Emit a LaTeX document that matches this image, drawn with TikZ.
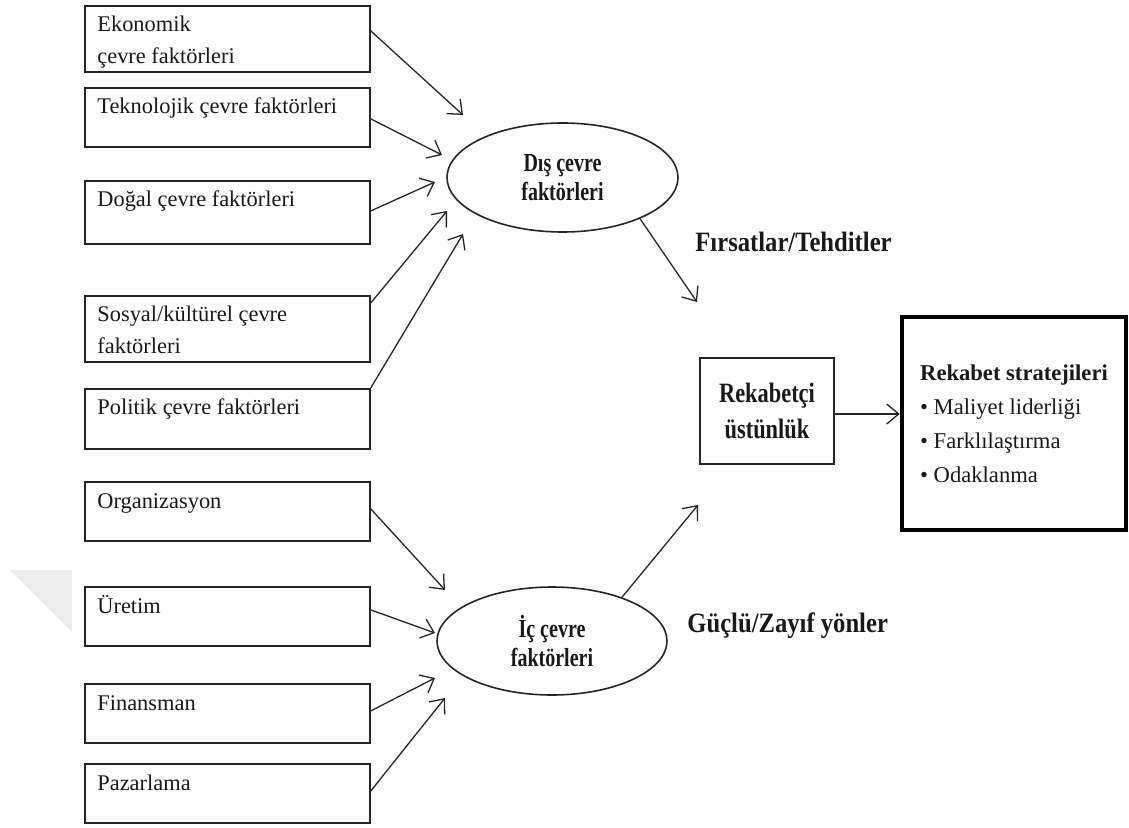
\documentclass[tikz,border=0pt]{standalone}
\usepackage{fontspec}
\setmainfont{Liberation Serif}
\newfontfamily\narrowserif[FakeStretch=0.77]{Liberation Serif}
\newfontfamily\headserif[FakeStretch=0.8]{Liberation Serif}
\newfontfamily\labelserif[FakeStretch=0.88]{Liberation Serif}
\usetikzlibrary{arrows.meta,shapes.geometric,calc}
\begin{document}
\begin{tikzpicture}[x=0.5pt,y=-0.5pt,
  factor/.style={draw=black!85, line width=0.9pt, rectangle, anchor=north west,
    inner sep=0pt, minimum width=142.5pt},
  boxtext/.style={anchor=base west, inner sep=0pt, xshift=6.5pt, yshift=-13.5pt,
    align=left, text=black!90, font=\fontsize{11.2}{16}\selectfont},
  boxtexttwo/.style={boxtext, yshift=-16pt},
  envnode/.style={draw=black!85, line width=0.8pt, ellipse, inner sep=0pt,
    minimum width=115.5pt, minimum height=54.5pt, align=center, text=black!90,
    font=\narrowserif\bfseries\fontsize{13}{14.5}\selectfont},
  conn/.style={draw=black!85, line width=0.65pt, -{Straight Barb[length=6pt,width=10pt]}},
  sidelabel/.style={anchor=base west, inner sep=0pt, text=black!90,
    font=\labelserif\bfseries\fontsize{14}{16}\selectfont}
]
\useasboundingbox (0,0) rectangle (1129,828);

% faint mark at the left margin
\fill[black!7] (10,570) -- (72,570) -- (72,632) -- cycle;

% external factors
\node[factor, minimum height=33pt,
  label={[boxtexttwo]north west:Ekonomik\\çevre faktörleri}] (eko) at (84,5) {};
\node[factor, minimum height=29.5pt,
  label={[boxtext]north west:Teknolojik çevre faktörleri}] (tek) at (84,87) {};
\node[factor, minimum height=31.5pt,
  label={[boxtext]north west:Doğal çevre faktörleri}] (dog) at (84,180) {};
\node[factor, minimum height=33pt,
  label={[boxtexttwo]north west:Sosyal/kültürel çevre\\faktörleri}] (sos) at (84,295) {};
\node[factor, minimum height=30pt,
  label={[boxtext]north west:Politik çevre faktörleri}] (pol) at (84,388) {};

% internal factors
\node[factor, minimum height=29.5pt,
  label={[boxtext]north west:Organizasyon}] (org) at (84,481) {};
\node[factor, minimum height=29.5pt,
  label={[boxtext]north west:Üretim}] (ure) at (84,586) {};
\node[factor, minimum height=29.5pt,
  label={[boxtext]north west:Finansman}] (fin) at (84,683) {};
\node[factor, minimum height=29.5pt,
  label={[boxtext]north west:Pazarlama}] (paz) at (84,763) {};

% environment ellipses
\node[envnode] (dis) at (562.5,177.5) {Dış çevre\\faktörleri};
\node[envnode, minimum width=115pt, minimum height=54pt] (ic) at (552,641) {İç çevre\\faktörleri};

% competitive advantage and strategies
\node[draw=black!85, line width=0.8pt, rectangle, inner sep=0pt,
  minimum width=67pt, minimum height=53pt, align=center, text=black!90,
  font=\headserif\bfseries\fontsize{14}{18}\selectfont] (rek) at (767,411) {Rekabetçi\\üstünlük};
\node[draw=black, line width=2.3pt, rectangle, inner sep=0pt,
  minimum width=112pt, minimum height=106.5pt, align=left, text=black!90,
  font=\fontsize{11.3}{17}\selectfont] (strat) at (1014,423.5)
  {\textbf{Rekabet stratejileri}\\• Maliyet liderliği\\• Farklılaştırma\\• Odaklanma};

% side labels
\node[sidelabel] (firsat) at (695,252) {Fırsatlar/Tehditler};
\node[sidelabel] (guclu) at (687,632) {Güçlü/Zayıf yönler};

% arrow tips
\coordinate (t1) at (463,115);
\coordinate (t2) at (442,155);
\coordinate (t3) at (435,182);
\coordinate (t4) at (447,211);
\coordinate (t5) at (463,234);
\coordinate (t6) at (445,590);
\coordinate (t7) at (435,633);
\coordinate (t8) at (435,678);
\coordinate (t9) at (445,698);
\coordinate (t10) at (697,302);
\coordinate (t11) at (698,505);

% connectors
\draw[conn] ([yshift=4pt]eko.east) -- (t1);
\draw[conn] ([yshift=-0.75pt]tek.east) -- (t2);
\draw[conn] ([yshift=0.75pt]dog.east) -- (t3);
\draw[conn] ([yshift=13pt]sos.east) -- (t4);
\draw[conn] ([yshift=15.5pt]pol.east) -- (t5);
\draw[conn] ([yshift=1.25pt]org.east) -- (t6);
\draw[conn] ([yshift=3.25pt]ure.east) -- (t7);
\draw[conn] ([yshift=1.25pt]fin.east) -- (t8);
\draw[conn] ([yshift=1.25pt]paz.east) -- (t9);
\draw[conn] (dis.-28) -- (t10);
\draw[conn] (ic.32) -- (t11);
\draw[conn] ([yshift=-1.5pt]rek.east) -- ([yshift=-1.5pt]rek.east -| strat.west);
\end{tikzpicture}
\end{document}
